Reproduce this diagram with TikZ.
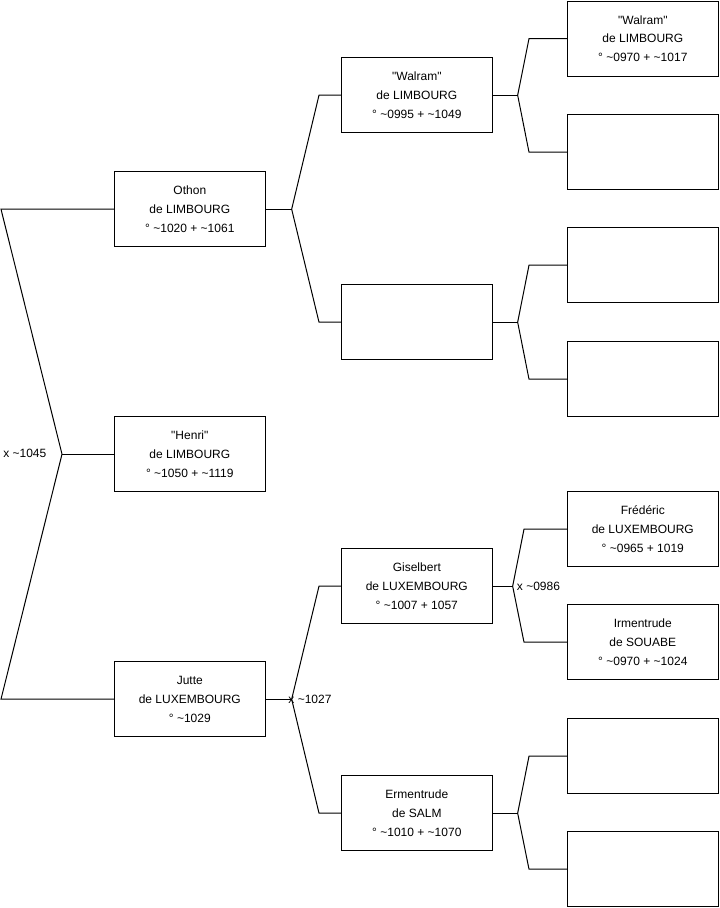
\documentclass[tikz,border=0pt]{standalone}
\usepackage{fontspec}
\setmainfont{Liberation Sans}
\newfontfamily\libsans{Liberation Sans}
\begin{document}
\begin{tikzpicture}[x=0.75pt,y=-0.75pt,
  person/.style={draw=black,line width=0.75pt,minimum width=113pt,minimum height=56.5pt,inner sep=0pt,align=center,font=\libsans\fontsize{9}{14.2}\selectfont,anchor=north west},
  link/.style={draw=black,line width=0.75pt},
  marr/.style={font=\libsans\fontsize{9}{11}\selectfont,inner sep=0pt}]
\useasboundingbox (0,0) rectangle (719,908);
% column 1
\node[person] (othon) at (114,171) {Othon\\de LIMBOURG\\° \textasciitilde1020 + \textasciitilde1061};
\node[person] (henri) at (114,416) {"Henri"\\de LIMBOURG\\° \textasciitilde1050 + \textasciitilde1119};
\node[person] (jutte) at (114,661) {Jutte\\de LUXEMBOURG\\° \textasciitilde1029};
% column 2
\node[person] (walram) at (341,57) {"Walram"\\de LIMBOURG\\° \textasciitilde0995 + \textasciitilde1049};
\node[person] (e1) at (341,284) {};
\node[person] (gisel) at (341,548) {Giselbert\\de LUXEMBOURG\\° \textasciitilde1007 + 1057};
\node[person] (ermen) at (341,775) {Ermentrude\\de SALM\\° \textasciitilde1010 + \textasciitilde1070};
% column 3
\node[person] (walram2) at (567,0.5) {"Walram"\\de LIMBOURG\\° \textasciitilde0970 + \textasciitilde1017};
\node[person] (r2) at (567,114) {};
\node[person] (r3) at (567,227) {};
\node[person] (r4) at (567,341) {};
\node[person] (fred) at (567,491) {Frédéric\\de LUXEMBOURG\\° \textasciitilde0965 + 1019};
\node[person] (irm) at (567,604) {Irmentrude\\de SOUABE\\° \textasciitilde0970 + \textasciitilde1024};
\node[person] (r7) at (567,718) {};
\node[person] (r8) at (567,831) {};
% fork coordinates
\coordinate (f0) at ([xshift=-39pt]henri.west);
\coordinate (f1) at ([xshift=19.5pt]othon.east);
\coordinate (f2) at ([xshift=19.5pt]jutte.east);
\coordinate (f3) at ([xshift=18.75pt]walram.east);
\coordinate (f4) at ([xshift=18.75pt]e1.east);
\coordinate (f5) at ([xshift=15pt]gisel.east);
\coordinate (f6) at ([xshift=18.75pt]ermen.east);
% left
\draw[link] (othon.west) -- ++(-113,0) -- (f0);
\draw[link] (f0) -- ([xshift=-84.75pt]jutte.west) -- (jutte.west);
\draw[link] (f0) -- (henri.west);
\node[marr,anchor=west] (m0) at (3,453) {x \textasciitilde1045};
% othon
\draw[link] (othon.east) -- (f1);
\draw[link] (walram.west) -- ++(-22,0) -- (f1) -- ([xshift=-16.5pt]e1.west) -- (e1.west);
% jutte
\draw[link] (jutte.east) -- (f2);
\draw[link] (gisel.west) -- ++(-22,0) -- (f2) -- ([xshift=-16.5pt]ermen.west) -- (ermen.west);
\node[marr,anchor=west] (m1) at ([xshift=-2.6pt]f2) {x \textasciitilde1027};
% walram
\draw[link] (walram.east) -- (f3);
\draw[link] (walram2.west) -- ++(-38,0) -- (f3) -- ([xshift=-28.5pt]r2.west) -- (r2.west);
% e1
\draw[link] (e1.east) -- (f4);
\draw[link] (r3.west) -- ++(-38,0) -- (f4) -- ([xshift=-28.5pt]r4.west) -- (r4.west);
% gisel
\draw[link] (gisel.east) -- (f5);
\draw[link] (fred.west) -- ++(-43,0) -- (f5) -- ([xshift=-32.25pt]irm.west) -- (irm.west);
\node[marr,anchor=west] (m2) at ([xshift=3pt]f5) {x \textasciitilde0986};
% ermen
\draw[link] (ermen.east) -- (f6);
\draw[link] (r7.west) -- ++(-38,0) -- (f6) -- ([xshift=-28.5pt]r8.west) -- (r8.west);
\end{tikzpicture}
\end{document}
